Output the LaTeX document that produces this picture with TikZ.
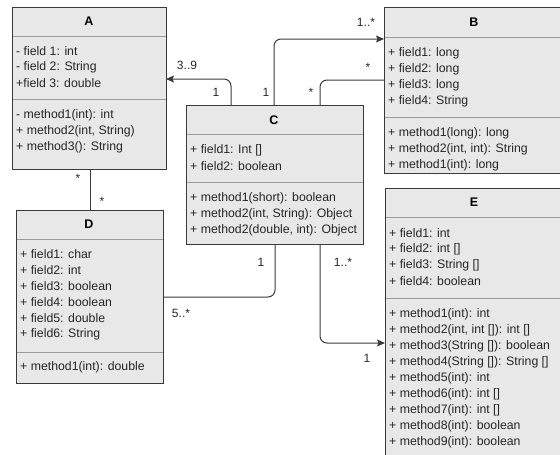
\documentclass[tikz,border=0pt]{standalone}
\usepackage{fontspec}
\setmainfont{Liberation Sans}
\usetikzlibrary{arrows.meta}
\definecolor{boxfill}{HTML}{E8E8E8}
\definecolor{boxline}{HTML}{3A3A3A}
\definecolor{sepline}{HTML}{9A9A9A}
\tikzset{
  umlbox/.style={draw=boxline, fill=boxfill, line width=1pt, inner sep=0pt, outer sep=0pt, anchor=north west},
  sep/.style={draw=sepline, line width=1pt},
  title/.style={font=\bfseries\fontsize{12.5}{14}\selectfont, inner sep=0pt},
  member/.style={font=\fontsize{12.3}{14}\selectfont, anchor=west, inner sep=0pt, text=black!85},
  lbl/.style={font=\fontsize{12}{14}\selectfont, inner sep=0pt, text=black!85},
  assoc/.style={draw=boxline, line width=1pt, rounded corners=7pt},
  arr/.style={-{Stealth[length=8pt,width=7pt,inset=1.5pt]}}
}
\begin{document}
\begin{tikzpicture}[x=1pt,y=-1pt]
\useasboundingbox (0,0) rectangle (560,455);
\clip (0,0) rectangle (560,455);
% boxes
\node[umlbox, minimum width=154pt, minimum height=162pt] (A) at (12,7) {};
\node[umlbox, minimum width=190pt, minimum height=166pt] (B) at (384,7) {};
\node[umlbox, minimum width=177pt, minimum height=139pt] (C) at (186,105) {};
\node[umlbox, minimum width=147pt, minimum height=173pt] (D) at (16,210) {};
\node[umlbox, minimum width=190pt, minimum height=290pt] (E) at (385,188) {};
% separators
\draw[sep] (A.north west |- 0,36) -- (A.north east |- 0,36);
\draw[sep] (A.north west |- 0,99) -- (A.north east |- 0,99);
\draw[sep] (B.north west |- 0,37) -- (B.north east |- 0,37);
\draw[sep] (B.north west |- 0,117) -- (B.north east |- 0,117);
\draw[sep] (C.north west |- 0,134) -- (C.north east |- 0,134);
\draw[sep] (C.north west |- 0,182) -- (C.north east |- 0,182);
\draw[sep] (D.north west |- 0,239) -- (D.north east |- 0,239);
\draw[sep] (D.north west |- 0,352) -- (D.north east |- 0,352);
\draw[sep] (E.north west |- 0,217) -- (E.north east |- 0,217);
\draw[sep] (E.north west |- 0,298) -- (E.north east |- 0,298);
% redraw box borders on top
\draw[boxline, line width=1pt] (A.north west) rectangle (A.south east);
\draw[boxline, line width=1pt] (B.north west) rectangle (B.south east);
\draw[boxline, line width=1pt] (C.north west) rectangle (C.south east);
\draw[boxline, line width=1pt] (D.north west) rectangle (D.south east);
\draw[boxline, line width=1pt] (E.north west) rectangle (E.south east);
% titles
\node[title] (tA) at (89,21) {A};
\node[title] (tB) at (474,22) {B};
\node[title] (tC) at (274,120) {C};
\node[title] (tD) at (89,224) {D};
\node[title] (tE) at (474,202) {E};
% A members
\node[member] (a1) at (16,51) {- field 1: int};
\node[member] (a2) at (16,67) {- field 2: String};
\node[member] (a3) at (16,83) {+field 3: double};
\node[member] (a4) at (16,115) {- method1(int): int};
\node[member] (a5) at (16,131) {+ method2(int, String)};
\node[member] (a6) at (16,147) {+ method3(): String};
% B members
\node[member] (b1) at (388,53) {+ field1: long};
\node[member] (b2) at (388,69) {+ field2: long};
\node[member] (b3) at (388,85) {+ field3: long};
\node[member] (b4) at (388,101) {+ field4: String};
\node[member] (b5) at (388,133) {+ method1(long): long};
\node[member] (b6) at (388,149) {+ method2(int, int): String};
\node[member] (b7) at (388,165) {+ method1(int): long};
% C members
\node[member] (c1) at (190,150) {+ field1: Int []};
\node[member] (c2) at (190,166) {+ field2: boolean};
\node[member] (c3) at (190,198) {+ method1(short): boolean};
\node[member] (c4) at (190,214) {+ method2(int, String): Object};
\node[member] (c5) at (190,230) {+ method2(double, int): Object};
% D members
\node[member] (d1) at (20,254) {+ field1: char};
\node[member] (d2) at (20,270) {+ field2: int};
\node[member] (d3) at (20,286) {+ field3: boolean};
\node[member] (d4) at (20,302) {+ field4: boolean};
\node[member] (d5) at (20,318) {+ field5: double};
\node[member] (d6) at (20,334) {+ field6: String};
\node[member] (d7) at (20,367) {+ method1(int): double};
% E members
\node[member] (e1) at (389,233) {+ field1: int};
\node[member] (e2) at (389,249) {+ field2: int []};
\node[member] (e3) at (389,265) {+ field3: String []};
\node[member] (e4) at (389,281) {+ field4: boolean};
\node[member] (e5) at (389,314) {+ method1(int): int};
\node[member] (e6) at (389,330) {+ method2(int, int []): int []};
\node[member] (e7) at (389,346) {+ method3(String []): boolean};
\node[member] (e8) at (389,362) {+ method4(String []): String []};
\node[member] (e9) at (389,378) {+ method5(int): int};
\node[member] (e10) at (389,394) {+ method6(int): int []};
\node[member] (e11) at (389,410) {+ method7(int): int []};
\node[member] (e12) at (389,426) {+ method8(int): boolean};
\node[member] (e13) at (389,442) {+ method9(int): boolean};
% connectors
\draw[assoc, arr] (231,0 |- C.north) |- (A.east |- 0,79);
\draw[assoc, arr] (274,0 |- C.north) |- (B.west |- 0,39);
\draw[assoc] (320,0 |- C.north) |- (B.west |- 0,80);
\draw[assoc] (90,0 |- A.south) -- (90,0 |- D.north);
\draw[assoc] (275,0 |- C.south) |- (D.east |- 0,297);
\draw[assoc, arr] (320,0 |- C.south) |- (E.west |- 0,343);
% multiplicities
\node[lbl] (m1) at (187,65) {3..9};
\node[lbl] (m2) at (216,92) {1};
\node[lbl] (m3) at (366,22) {1..*};
\node[lbl] (m4) at (266,92) {1};
\node[lbl] (m5) at (368,67) {*};
\node[lbl] (m6) at (311,92) {*};
\node[lbl] (m7) at (78,178) {*};
\node[lbl] (m8) at (102,201) {*};
\node[lbl] (m9) at (261,262) {1};
\node[lbl] (m10) at (181,313) {5..*};
\node[lbl] (m11) at (343,262) {1..*};
\node[lbl] (m12) at (367,358) {1};
\end{tikzpicture}
\end{document}
